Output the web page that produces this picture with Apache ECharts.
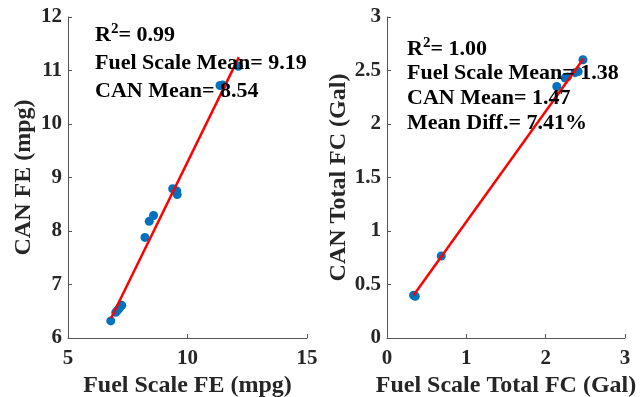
<!DOCTYPE html>
<html><head><meta charset="utf-8">
<script src="https://cdn.jsdelivr.net/npm/echarts@6/dist/echarts.min.js"></script>
<style>html,body{margin:0;padding:0;background:#fff}#c{width:644px;height:397px}</style>
</head><body><div id="c"></div>
<script>
// Left panel: Fuel economy
const feScaleX = [6.79, 7.00, 7.08, 7.15, 7.25, 8.22, 8.40, 8.58, 9.38, 9.55, 9.57, 11.36, 11.47, 12.13];
const feCanY   = [6.32, 6.48, 6.52, 6.56, 6.61, 7.88, 8.18, 8.29, 8.79, 8.75, 8.68, 10.72, 10.73, 11.08];
const feFitX = [6.80, 12.15];
const feFitY = [6.37, 11.25];
const feNotes = ['{b|R}{s|2}{b|= 0.99}', 'Fuel Scale Mean= 9.19', 'CAN Mean= 8.54'];

// Right panel: Total fuel consumption
const fcScaleX = [0.335, 0.356, 0.684, 2.14, 2.245, 2.275, 2.37, 2.41, 2.47];
const fcCanY   = [0.40, 0.39, 0.766, 2.35, 2.43, 2.44, 2.48, 2.49, 2.60];
const fcFitX = [0.335, 2.476];
const fcFitY = [0.40, 2.61];
const fcNotes = ['{b|R}{s|2}{b|= 1.00}', 'Fuel Scale Mean= 1.38', 'CAN Mean= 1.47', 'Mean Diff.= 7.41%'];

const axisNames = {
  x0: 'Fuel Scale FE (mpg)', y0: 'CAN FE (mpg)',
  x1: 'Fuel Scale Total FC (Gal)', y1: 'CAN Total FC (Gal)'
};

const FONT = '"Liberation Serif", "Times New Roman", serif';
const TXT = '#262626';
const AX = '#555555';

function xAx(idx, min, max, interval, name) {
  return {
    gridIndex: idx, type: 'value', min, max, interval,
    name, nameLocation: 'middle', nameGap: 33,
    nameTextStyle: {fontFamily: FONT, fontWeight: 'bold', fontSize: 24, color: TXT},
    axisLine: {show: true, onZero: false, lineStyle: {color: AX, width: 1}},
    axisTick: {show: true, inside: true, length: 4, lineStyle: {color: AX}},
    axisLabel: {fontFamily: FONT, fontWeight: 'bold', fontSize: 21, color: TXT, margin: 10},
    splitLine: {show: false}
  };
}
function yAx(idx, min, max, interval, name, gap) {
  return {
    gridIndex: idx, type: 'value', min, max, interval,
    name, nameLocation: 'middle', nameGap: gap,
    nameTextStyle: {fontFamily: FONT, fontWeight: 'bold', fontSize: 24, color: TXT},
    axisLine: {show: true, onZero: false, lineStyle: {color: AX, width: 1}},
    axisTick: {show: true, inside: true, length: 4, lineStyle: {color: AX}},
    axisLabel: {fontFamily: FONT, fontWeight: 'bold', fontSize: 21, color: TXT, margin: 6},
    splitLine: {show: false}
  };
}

function notes(list, x, ys) {
  return list.map((t, i) => ({
    type: 'text', left: x, top: ys[i], z: 100,
    style: {
      text: t, font: 'bold 22px ' + FONT, fill: '#000', textVerticalAlign: 'middle',
      rich: {
        b: {font: 'bold 22px ' + FONT, fill: '#000', lineHeight: 24, verticalAlign: 'bottom'},
        s: {font: 'bold 15px ' + FONT, fill: '#000', lineHeight: 24, verticalAlign: 'top'}
      }
    }
  }));
}

const chart = echarts.init(document.getElementById('c'), null, {renderer: 'canvas'});
chart.setOption({
  backgroundColor: '#fff',
  animation: false,
  grid: [
    {left: 68, top: 17, width: 239, height: 321, containLabel: false, outerBoundsMode: 'none'},
    {left: 387, top: 17, width: 238, height: 321, containLabel: false, outerBoundsMode: 'none'}
  ],
  xAxis: [xAx(0, 5, 15, 5, axisNames.x0), xAx(1, 0, 3, 1, axisNames.x1)],
  yAxis: [yAx(0, 6, 12, 1, axisNames.y0, 32), yAx(1, 0, 3, 0.5, axisNames.y1, 31)],
  series: [
    {type: 'scatter', xAxisIndex: 0, yAxisIndex: 0, symbolSize: 9,
     itemStyle: {color: '#0072BD', opacity: 1},
     data: feScaleX.map((x, i) => [x, feCanY[i]])},
    {type: 'line', xAxisIndex: 0, yAxisIndex: 0, showSymbol: false, symbol: 'none',
     lineStyle: {color: '#FF0000', width: 2.5},
     data: feFitX.map((x, i) => [x, feFitY[i]])},
    {type: 'scatter', xAxisIndex: 1, yAxisIndex: 1, symbolSize: 9,
     itemStyle: {color: '#0072BD', opacity: 1},
     data: fcScaleX.map((x, i) => [x, fcCanY[i]])},
    {type: 'line', xAxisIndex: 1, yAxisIndex: 1, showSymbol: false, symbol: 'none',
     lineStyle: {color: '#FF0000', width: 2.5},
     data: fcFitX.map((x, i) => [x, fcFitY[i]])}
  ],
  graphic: [].concat(
    notes(feNotes, 95, [22, 52, 80]),
    notes(fcNotes, 407, [36, 62, 87, 112])
  )
});
</script></body></html>
